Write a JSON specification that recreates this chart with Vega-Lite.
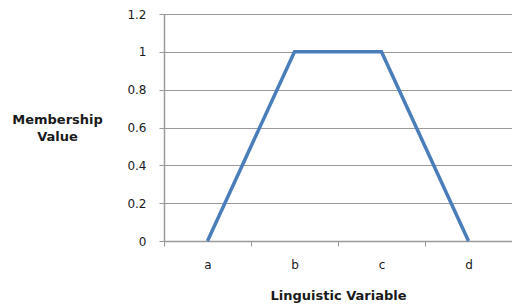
{
  "$schema": "https://vega.github.io/schema/vega-lite/v6.json",
  "autosize": "none",
  "padding": {"left": 164, "top": 14, "right": 0, "bottom": 66},
  "width": 348,
  "height": 227,
  "background": "white",
  "config": {"view": {"stroke": null}},
  "data": {"values": [
    {"variable": "a", "membership": 0},
    {"variable": "b", "membership": 1},
    {"variable": "c", "membership": 1},
    {"variable": "d", "membership": 0}
  ]},
  "mark": {"type": "line", "color": "#4a7ebb", "strokeWidth": 3.5},
  "encoding": {
    "x": {
      "field": "variable", "type": "nominal", "bandPosition": 0.5,
      "scale": {"type": "band", "paddingInner": 0, "paddingOuter": 0},
      "axis": {
        "title": "Linguistic Variable", "labelAngle": 0, "tickBand": "extent",
        "grid": false, "domainColor": "#999999", "domainWidth": 1.5, "tickColor": "#999999", "tickSize": 5,
        "labelPadding": 13, "labelBaseline": "top", "labelFont": "DejaVu Sans", "labelFontSize": 12, "labelColor": "#1a1a1a",
        "titleFont": "DejaVu Sans", "titleFontSize": 13, "titleFontWeight": "bold", "titleColor": "#1a1a1a",
        "titleX": 174, "titleY": 58, "titleBaseline": "alphabetic", "titleAlign": "center"
      }
    },
    "y": {
      "field": "membership", "type": "quantitative",
      "scale": {"domain": [0, 1.2], "nice": false},
      "axis": {
        "title": ["Membership", "Value"], "values": [0, 0.2, 0.4, 0.6, 0.8, 1, 1.2], "format": "~g",
        "grid": true, "gridColor": "#999999", "gridWidth": 1,
        "domainColor": "#999999", "domainWidth": 1.5, "tickColor": "#999999", "tickSize": 5, "labelPadding": 13,
        "labelFont": "DejaVu Sans", "labelFontSize": 12, "labelColor": "#1a1a1a",
        "titleFont": "DejaVu Sans", "titleFontSize": 13, "titleFontWeight": "bold", "titleColor": "#1a1a1a",
        "titleAngle": 0, "titleAlign": "center", "titleBaseline": "top", "titleX": -107, "titleY": 99, "titleLineHeight": 17
      }
    }
  }
}
